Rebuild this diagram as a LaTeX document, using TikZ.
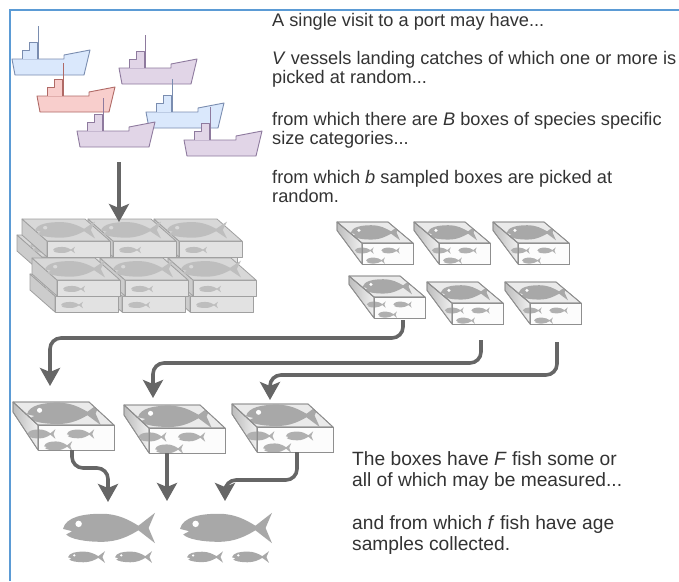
\documentclass[tikz,border=0pt]{standalone}
\usepackage{fontspec}
\setmainfont{Liberation Sans}
\usetikzlibrary{arrows.meta}

\definecolor{frameblue}{HTML}{5B9BD5}
\definecolor{arrowgray}{HTML}{666666}
\definecolor{textgray}{HTML}{333333}
\definecolor{shipbluefill}{HTML}{DAE8FC}
\definecolor{shipblueline}{HTML}{7A8DB0}
\definecolor{shippurplefill}{HTML}{E1D5E7}
\definecolor{shippurpleline}{HTML}{8E7A9E}
\definecolor{shipredfill}{HTML}{F8CECC}
\definecolor{shipredline}{HTML}{B06A66}
\definecolor{crateedge}{HTML}{8F8F8F}
\definecolor{cratetop}{HTML}{EAEAEA}
\definecolor{cratefront}{HTML}{FCFCFC}
\definecolor{sidedark}{HTML}{BDBDBD}
\definecolor{sidelight}{HTML}{F0F0F0}
\definecolor{fishgray}{HTML}{A8A8A8}
\definecolor{smallfish}{HTML}{B0B0B0}
\definecolor{stackedge}{HTML}{A0A0A0}
\definecolor{stacktop}{HTML}{D8D8D8}
\definecolor{stackfront}{HTML}{E2E2E2}
\definecolor{stackside}{HTML}{CCCCCC}
\definecolor{stackfish}{HTML}{BEBEBE}

% fish facing left: nose at (#1,#2), length #3, height factor #4, body colour #5, eye colour #6
\newcommand{\drawfish}[6]{%
  \begin{scope}[shift={(#1,#2)}, xscale=#3, yscale=#3*#4]
    \fill[#5] (0,0.01) .. controls (0.03,-0.12) and (0.22,-0.155) .. (0.42,-0.155)
      .. controls (0.6,-0.155) and (0.72,-0.085) .. (0.82,-0.025)
      -- (1,-0.165) -- (0.93,0) -- (1,0.165) -- (0.82,0.025)
      .. controls (0.72,0.085) and (0.6,0.15) .. (0.42,0.15)
      .. controls (0.24,0.15) and (0.08,0.12) .. (0.035,0.07)
      -- (0.1,0.035) -- cycle;
    \fill[#6] (0.17,-0.045) circle[radius=0.035];
  \end{scope}}

% trawler: stern deck corner at (#1,#2)
\newcommand{\drawship}[4]{%
  \begin{scope}[shift={(#1,#2)}, line width=0.9pt, line join=round]
    \filldraw[fill=#3, draw=#4] (0,0) -- (52,0) -- (52,-4) -- (78,-9) -- (72,16) -- (3,16) -- cycle;
    \filldraw[fill=#3, draw=#4] (10,0) -- (10,-9) -- (17,-9) -- (17,-17) -- (25,-17) -- (25,0);
    \draw[draw=#4] (26,0) -- (26,-33);
  \end{scope}}

% open-front fish box: back-left top corner (#1,#2), width #3, depth (#4,#5), height #6
\newcommand{\drawcrate}[6]{%
  \begin{scope}[shift={(#1,#2)}, line width=0.8pt, line join=round]
    \def\crW{#3}\def\crDX{#4}\def\crDY{#5}\def\crH{#6}
    \path[left color=sidedark, right color=sidelight, draw=crateedge]
      (0,0) -- (\crDX,\crDY) -- (\crDX,\crDY+\crH) -- (0,0.4*\crH) -- cycle;
    \filldraw[fill=cratefront, draw=crateedge] (\crDX,\crDY) rectangle (\crDX+\crW,\crDY+\crH);
    \filldraw[fill=cratetop, draw=crateedge]
      (0,0) -- (\crW,0) -- (\crW+\crDX,\crDY) -- (\crDX,\crDY) -- cycle;
    \begin{scope}
      \clip (0,0) -- (\crW,0) -- (\crW+\crDX,\crDY) -- (\crDX,\crDY) -- cycle;
      \drawfish{\crDX*0.5+0.02*\crW}{\crDY*0.5}{0.97*\crW}{0.95}{fishgray}{white}
    \end{scope}
    \begin{scope}
      \clip (0,0) -- (\crDX,\crDY) -- (\crDX+\crW,\crDY) -- (\crDX+\crW,\crDY+\crH)
        -- (\crDX,\crDY+\crH) -- (0,0.4*\crH) -- cycle;
      \drawfish{\crDX-0.14*\crW}{\crDY+0.36*\crH}{0.37*\crW}{1.05}{smallfish}{smallfish}
      \drawfish{\crDX+0.38*\crW}{\crDY+0.36*\crH}{0.36*\crW}{1.05}{smallfish}{smallfish}
      \drawfish{\crDX+0.08*\crW}{\crDY+0.84*\crH}{0.37*\crW}{1.05}{smallfish}{smallfish}
    \end{scope}
    \draw[crateedge] (0,0) -- (\crDX,\crDY) -- (\crDX,\crDY+\crH) -- (0,0.4*\crH) -- cycle;
    \draw[crateedge] (\crDX,\crDY) rectangle (\crDX+\crW,\crDY+\crH);
    \draw[crateedge] (0,0) -- (\crW,0) -- (\crW+\crDX,\crDY) -- (\crDX,\crDY) -- cycle;
  \end{scope}}

% closed box of the landed stack: back-left top corner (#1,#2)
\newcommand{\drawstackcrate}[2]{%
  \begin{scope}[shift={(#1,#2)}, line width=0.8pt, line join=round]
    \filldraw[fill=stackside, draw=stackedge] (0,0) -- (25,22) -- (25,38) -- (0,16) -- cycle;
    \filldraw[fill=stackfront, draw=stackedge] (25,22) rectangle (88,38);
    \filldraw[fill=stacktop, draw=stackedge] (0,0) -- (63,0) -- (88,22) -- (25,22) -- cycle;
    \drawfish{13}{11}{60}{0.85}{stackfish}{stacktop}
    \drawfish{31}{31}{22}{0.9}{stackfish}{stackfish}
  \end{scope}}

\begin{document}
\begin{tikzpicture}[x=1pt, y=-1pt,
  flow/.style={draw=arrowgray, line width=3.6pt, rounded corners=11pt,
    -{Stealth[length=18pt, width=20pt, inset=4pt]}},
  toptext/.style={anchor=base west, inner sep=0pt, text=textgray,
    font=\fontsize{18.2}{20}\selectfont},
  bottext/.style={anchor=base west, inner sep=0pt, text=textgray,
    font=\fontsize{19.2}{21}\selectfont}]

\useasboundingbox[fill=white] (0,0) rectangle (679,581);

% frame
\draw[frameblue, line width=2pt] (10,581) -- (10,10) -- (679,10);

% vessels in port
\drawship{12}{59}{shipbluefill}{shipblueline}
\drawship{119}{68}{shippurplefill}{shippurpleline}
\drawship{37}{96}{shipredfill}{shipredline}
\drawship{146}{112}{shipbluefill}{shipblueline}
\drawship{77}{131}{shippurplefill}{shippurpleline}
\drawship{184}{140}{shippurplefill}{shippurpleline}

% landed boxes, stacked two high in two rows
\drawstackcrate{149}{235}\drawstackcrate{83}{235}\drawstackcrate{17}{235}
\drawstackcrate{154}{219}\drawstackcrate{88}{219}\drawstackcrate{22}{219}
\drawstackcrate{165}{274}\drawstackcrate{97}{274}\drawstackcrate{30}{274}
\drawstackcrate{168}{258}\drawstackcrate{100}{258}\drawstackcrate{32}{258}

% sampled boxes
\drawcrate{493}{222}{51}{25}{21}{21}
\drawcrate{414}{222}{51}{25}{21}{21}
\drawcrate{337}{222}{51}{25}{21}{21}
\drawcrate{505}{282}{51}{25}{21}{21}
\drawcrate{427}{282}{51}{25}{21}{21}
\drawcrate{349}{276}{51}{25}{21}{21}

% boxes selected for measuring
\drawcrate{13}{402}{76}{25}{23}{25}
\drawcrate{124}{405}{76}{25}{23}{25}
\drawcrate{232}{404}{76}{25}{23}{25}

% measured fish and age samples
\drawfish{63}{528}{92}{1}{fishgray}{white}
\drawfish{180}{528}{92}{1}{fishgray}{white}
\drawfish{68}{557}{37}{0.95}{fishgray}{white}
\drawfish{115}{557}{37}{0.95}{fishgray}{white}
\drawfish{187}{557}{36}{0.95}{fishgray}{white}
\drawfish{232}{557}{37}{0.95}{fishgray}{white}

% connector end points
\coordinate (fleet-out) at (119,162);
\coordinate (stack-in) at (119,222);
\coordinate (pick1-out) at (403,320);
\coordinate (pick2-out) at (481,340);
\coordinate (pick3-out) at (557,342);
\coordinate (sel1-in) at (50,386);
\coordinate (sel2-in) at (153,398);
\coordinate (sel3-in) at (270,400);
\coordinate (sel1-out) at (72,450);
\coordinate (sel2-out) at (167,453);
\coordinate (sel3-out) at (297,452);
\coordinate (fish1-in) at (108,502);
\coordinate (fish2-in) at (167,501);
\coordinate (fish3-in) at (225,501);

\draw[flow] (fleet-out) -- (stack-in);
\draw[flow] (pick1-out) |- (sel1-in |- 0,338) -- (sel1-in);
\draw[flow] (pick2-out) |- (sel2-in |- 0,363) -- (sel2-in);
\draw[flow] (pick3-out) |- (sel3-in |- 0,375) -- (sel3-in);
\draw[flow] (sel1-out) |- (fish1-in |- 0,468) -- (fish1-in);
\draw[flow] (sel2-out) -- (fish2-in);
\draw[flow] (sel3-out) |- (fish3-in |- 0,480) -- (fish3-in);

% captions
\node[toptext] (t1) at (272,26) {A single visit to a port may have...};
\node[toptext] (t2) at (272,64) {\textit{V} vessels landing catches of which one or more is};
\node[toptext] (t3) at (272,83) {picked at random...};
\node[toptext] (t4) at (272,125) {from which there are \textit{B} boxes of species specific};
\node[toptext] (t5) at (272,144) {size categories...};
\node[toptext] (t6) at (272,183) {from which \textit{b} sampled boxes are picked at};
\node[toptext] (t7) at (272,202) {random.};
\node[bottext] (b1) at (352,465) {The boxes have \textit{F} fish some or};
\node[bottext] (b2) at (352,486) {all of which may be measured...};
\node[bottext] (b3) at (352,529) {and from which \textit{f} fish have age};
\node[bottext] (b4) at (352,550) {samples collected.};
\end{tikzpicture}
\end{document}
